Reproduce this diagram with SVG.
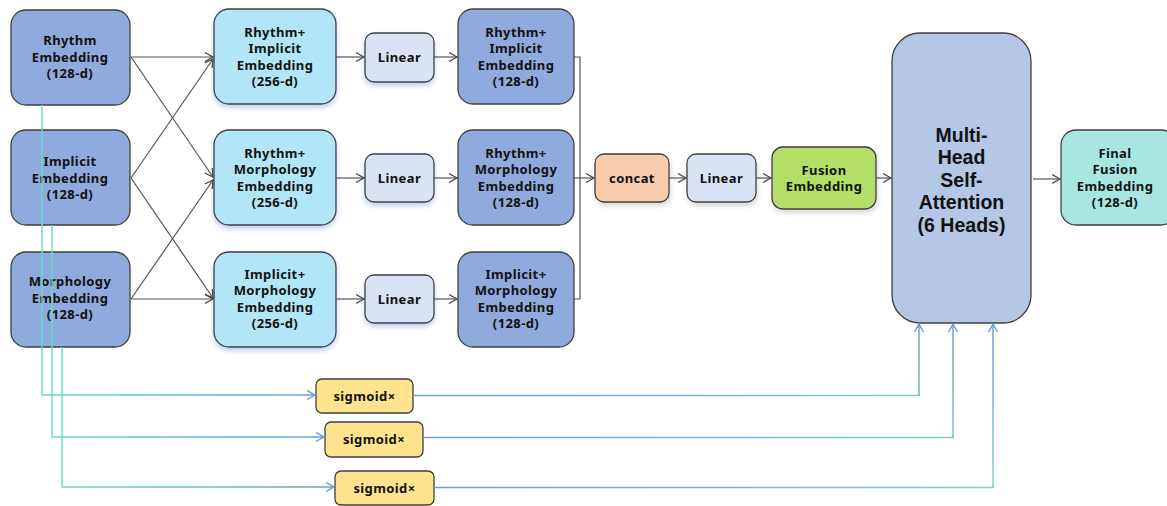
<svg xmlns="http://www.w3.org/2000/svg" width="1167" height="506" viewBox="0 0 1167 506">
<defs>
<style>
text{font-family:"Noto Sans","Open Sans","Liberation Sans",sans-serif;font-weight:bold;fill:#111;text-anchor:middle}
.t{font-size:13px;letter-spacing:0.4px}
.big{font-family:"Liberation Sans","Noto Sans",sans-serif;font-size:19.5px}
.box{stroke:#3f3f3f;stroke-width:1.3}
.emb{fill:#8FAADC}
.cmb{fill:#B2E5F8}
.lin{fill:#DAE3F3}
.sig{fill:#FFE38F}
.c{fill:none;stroke:#555;stroke-width:1.2}
.b{fill:none;stroke-width:1.4}
</style>
<marker id="ah" markerUnits="userSpaceOnUse" markerWidth="12" markerHeight="12" refX="8" refY="5" orient="auto">
<path d="M0,0.5 L8,5 L0,9.5" fill="none" stroke="#444" stroke-width="1.2"/>
</marker>
<marker id="ab" markerUnits="userSpaceOnUse" markerWidth="12" markerHeight="12" refX="8" refY="5" orient="auto">
<path d="M0,0.5 L8,5 L0,9.5" fill="none" stroke="#5E96D6" stroke-width="1.3"/>
</marker>
<linearGradient id="gl" x1="0" y1="0" x2="1" y2="0">
<stop offset="0" stop-color="#63DCC4"/>
<stop offset="1" stop-color="#6A9FDC"/>
</linearGradient>
<linearGradient id="gr" x1="0" y1="0" x2="1" y2="0">
<stop offset="0" stop-color="#6A9FDC"/>
<stop offset="0.6" stop-color="#79B6D8"/>
<stop offset="1" stop-color="#7FD0C4"/>
</linearGradient>
<linearGradient id="gv" gradientUnits="userSpaceOnUse" x1="0" y1="490" x2="0" y2="324">
<stop offset="0" stop-color="#7FD0C4"/>
<stop offset="1" stop-color="#5E96D6"/>
</linearGradient>
<filter id="sh" x="-20%" y="-20%" width="140%" height="150%">
<feDropShadow dx="0" dy="3" stdDeviation="2.5" flood-color="#6F8FE0" flood-opacity="0.45"/>
</filter>
<filter id="sg" x="-20%" y="-20%" width="140%" height="150%">
<feDropShadow dx="1" dy="3" stdDeviation="2.5" flood-color="#888" flood-opacity="0.35"/>
</filter>
</defs>
<rect width="1167" height="506" fill="#fff"/>

<g id="nodes">
<g id="rhythm"><rect class="box emb" x="11" y="10" width="119" height="95" rx="15"/>
<text class="t" x="70" y="45">Rhythm</text><text class="t" x="70" y="62">Embedding</text><text class="t" x="70" y="78">(128-d)</text></g>
<g id="implicit"><rect class="box emb" x="11" y="130" width="119" height="95" rx="15"/>
<text class="t" x="70" y="166">Implicit</text><text class="t" x="70" y="183">Embedding</text><text class="t" x="70" y="199">(128-d)</text></g>
<g id="morphology"><rect class="box emb" x="11" y="252" width="119" height="95" rx="15"/>
<text class="t" x="70" y="286">Morphology</text><text class="t" x="70" y="303">Embedding</text><text class="t" x="70" y="319">(128-d)</text></g>

<g id="ri256"><rect class="box cmb" x="214" y="9" width="122" height="95" rx="15" filter="url(#sh)"/>
<text class="t" x="275" y="37">Rhythm+</text><text class="t" x="275" y="53">Implicit</text><text class="t" x="275" y="70">Embedding</text><text class="t" x="275" y="86">(256-d)</text></g>
<g id="rm256"><rect class="box cmb" x="214" y="130" width="122" height="95" rx="15" filter="url(#sh)"/>
<text class="t" x="275" y="158">Rhythm+</text><text class="t" x="275" y="174">Morphology</text><text class="t" x="275" y="191">Embedding</text><text class="t" x="275" y="207">(256-d)</text></g>
<g id="im256"><rect class="box cmb" x="214" y="252" width="122" height="95" rx="15" filter="url(#sh)"/>
<text class="t" x="275" y="279">Implicit+</text><text class="t" x="275" y="295">Morphology</text><text class="t" x="275" y="312">Embedding</text><text class="t" x="275" y="328">(256-d)</text></g>

<g id="lin1"><rect class="box lin" x="365" y="33" width="69" height="49" rx="9" filter="url(#sh)"/><text class="t" x="399.5" y="62">Linear</text></g>
<g id="lin2"><rect class="box lin" x="365" y="154" width="69" height="48" rx="9" filter="url(#sh)"/><text class="t" x="399.5" y="183">Linear</text></g>
<g id="lin3"><rect class="box lin" x="365" y="275" width="69" height="48" rx="9" filter="url(#sh)"/><text class="t" x="399.5" y="304">Linear</text></g>

<g id="ri128"><rect class="box emb" x="458" y="9" width="116" height="95" rx="15"/>
<text class="t" x="516" y="37">Rhythm+</text><text class="t" x="516" y="53">Implicit</text><text class="t" x="516" y="70">Embedding</text><text class="t" x="516" y="86">(128-d)</text></g>
<g id="rm128"><rect class="box emb" x="458" y="130" width="116" height="95" rx="15"/>
<text class="t" x="516" y="158">Rhythm+</text><text class="t" x="516" y="174">Morphology</text><text class="t" x="516" y="191">Embedding</text><text class="t" x="516" y="207">(128-d)</text></g>
<g id="im128"><rect class="box emb" x="458" y="252" width="116" height="95" rx="15"/>
<text class="t" x="516" y="279">Implicit+</text><text class="t" x="516" y="295">Morphology</text><text class="t" x="516" y="312">Embedding</text><text class="t" x="516" y="328">(128-d)</text></g>

<g id="concat"><rect class="box" fill="#F8CBAD" x="595" y="154" width="74" height="48" rx="9" filter="url(#sg)"/><text class="t" x="632" y="183">concat</text></g>
<g id="lin4"><rect class="box lin" x="687" y="154" width="69" height="48" rx="9" filter="url(#sg)"/><text class="t" x="721.5" y="183">Linear</text></g>
<g id="fusion"><rect class="box" fill="#B3DE68" x="772" y="147" width="104" height="62" rx="11" filter="url(#sg)"/>
<text class="t" x="824" y="175">Fusion</text><text class="t" x="824" y="191">Embedding</text></g>

<g id="mhsa"><rect class="box" fill="#B4C7E7" x="892" y="33" width="139" height="290" rx="28"/>
<text class="big" x="961.5" y="142">Multi-</text><text class="big" x="961.5" y="164">Head</text><text class="big" x="961.5" y="186.5">Self-</text><text class="big" x="961.5" y="209">Attention</text><text class="big" x="961.5" y="231.5">(6 Heads)</text></g>

<g id="final"><rect class="box" fill="#A8E7E0" x="1061" y="130" width="115" height="95" rx="15"/>
<text class="t" x="1115" y="158">Final</text><text class="t" x="1115" y="174">Fusion</text><text class="t" x="1115" y="191">Embedding</text><text class="t" x="1115" y="207">(128-d)</text></g>

<g id="sig1"><rect class="box sig" x="316" y="379" width="97" height="34" rx="6"/><text class="t" x="364.5" y="400.5">sigmoid×</text></g>
<g id="sig2"><rect class="box sig" x="325" y="422" width="98" height="35" rx="6"/><text class="t" x="374" y="444">sigmoid×</text></g>
<g id="sig3"><rect class="box sig" x="335" y="471" width="99" height="34" rx="6"/><text class="t" x="384.5" y="492.5">sigmoid×</text></g>
</g>

<g id="connectors">
<path class="c" d="M131,57 L213,57" marker-end="url(#ah)"/>
<path class="c" d="M131,57 L213,177" marker-end="url(#ah)"/>
<path class="c" d="M131,178 L213,59" marker-end="url(#ah)"/>
<path class="c" d="M131,178 L213,298" marker-end="url(#ah)"/>
<path class="c" d="M131,299 L213,180" marker-end="url(#ah)"/>
<path class="c" d="M131,299 L213,299" marker-end="url(#ah)"/>

<path class="c" d="M336,57 L364,57" marker-end="url(#ah)"/>
<path class="c" d="M336,178 L364,178" marker-end="url(#ah)"/>
<path class="c" d="M336,299 L364,299" marker-end="url(#ah)"/>
<path class="c" d="M434,57 L457,57" marker-end="url(#ah)"/>
<path class="c" d="M434,178 L457,178" marker-end="url(#ah)"/>
<path class="c" d="M434,299 L457,299" marker-end="url(#ah)"/>

<path class="c" d="M574,57 L580,57 L580,299 L574,299"/>
<path class="c" d="M574,178 L594,178" marker-end="url(#ah)"/>
<path class="c" d="M669,178 L686,178" marker-end="url(#ah)"/>
<path class="c" d="M756,178 L771,178" marker-end="url(#ah)"/>
<path class="c" d="M876,178 L891,178" marker-end="url(#ah)"/>
<path class="c" d="M1033,179 L1060,179" marker-end="url(#ah)"/>

<path class="b" stroke="url(#gl)" d="M42,105 L42,395 L315,395" marker-end="url(#ab)"/>
<path class="b" stroke="url(#gl)" d="M52,225 L52,437 L324,437" marker-end="url(#ab)"/>
<path class="b" stroke="url(#gl)" d="M62,347 L62,487 L334,487" marker-end="url(#ab)"/>

<path class="b" stroke="url(#gr)" d="M413,395.5 L919,395.5 L919,394.5"/>
<path class="b" stroke="url(#gv)" d="M919,396 L919,324" marker-end="url(#ab)"/>
<path class="b" stroke="url(#gr)" d="M423,437.5 L953,437.5 L953,436.5"/>
<path class="b" stroke="url(#gv)" d="M953,438 L953,324" marker-end="url(#ab)"/>
<path class="b" stroke="url(#gr)" d="M434,487.5 L993,487.5 L993,486.5"/>
<path class="b" stroke="url(#gv)" d="M993,488 L993,324" marker-end="url(#ab)"/>
</g>
</svg>
